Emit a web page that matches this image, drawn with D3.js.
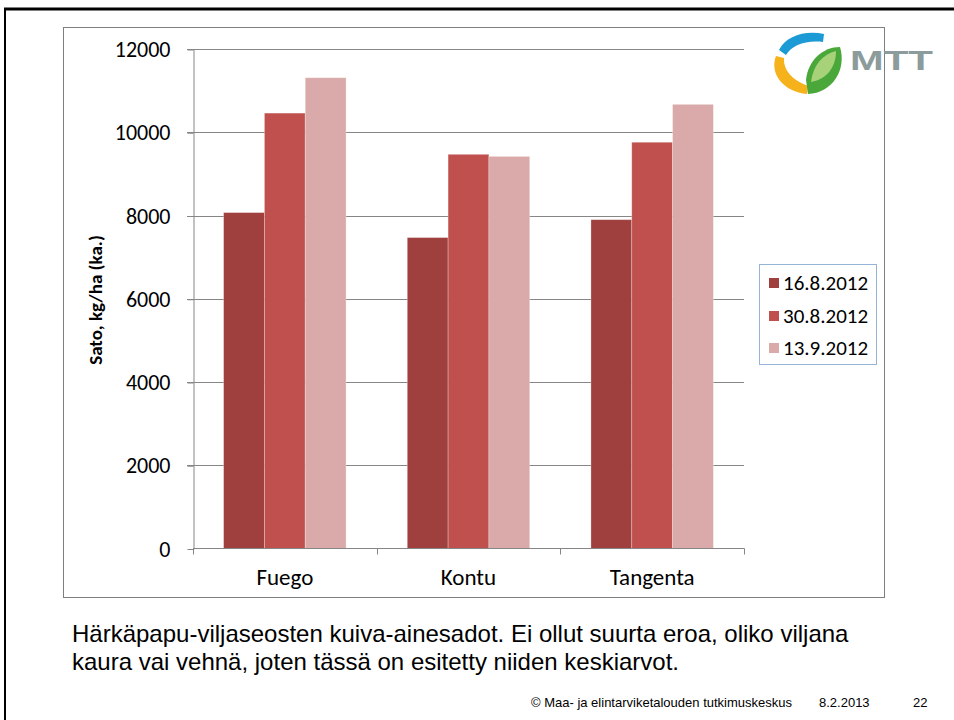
<!DOCTYPE html>
<html>
<head>
<meta charset="utf-8">
<script src="https://cdn.jsdelivr.net/npm/d3@7"></script>
<style>
  body { margin: 0; background: #fff; }
  svg { display: block; }
  .tick text { font-family: Calibri, Carlito, Lato, sans-serif; }
</style>
</head>
<body>
<div id="chart"></div>
<script>
const width = 954
const height = 720

// Data
const categories = ["Fuego", "Kontu", "Tangenta"]
const seriesNames = ["16.8.2012", "30.8.2012", "13.9.2012"]
const harvest1 = [8070, 7470, 7900]
const harvest2 = [10460, 9470, 9760]
const harvest3 = [11310, 9420, 10670]
const yTicks = [0, 2000, 4000, 6000, 8000, 10000, 12000]
const colors = ["#9f403e", "#c0504d", "#d9aaa9"]

const series = [harvest1, harvest2, harvest3]

// Plot area in page coordinates
const plot = {left: 193, right: 744, top: 49, bottom: 548.5}

const svg = d3.select("div#chart").append("svg").attr("width", width).attr("height", height)

// Slide frame
svg.append("line").attr("x1", 4).attr("x2", width).attr("y1", 9).attr("y2", 9)
    .attr("stroke", "#000").attr("stroke-width", 3)
svg.append("line").attr("x1", 5).attr("x2", 5).attr("y1", 8).attr("y2", height)
    .attr("stroke", "#000").attr("stroke-width", 2)

// Chart box
svg.append("rect").attr("x", 63.5).attr("y", 27.5).attr("width", 821).attr("height", 570)
    .attr("fill", "none").attr("stroke", "#7f7f7f").attr("stroke-width", 1)

// Scales
const y = d3.scaleLinear().domain([0, 12000]).range([plot.bottom, plot.top])
const x0 = d3.scaleBand().domain(categories).range([plot.left, plot.right])
    .paddingInner(1 / 3).paddingOuter(1 / 6)
const x1 = d3.scaleBand().domain(seriesNames).range([0, x0.bandwidth()])

// Gridlines
svg.append("g").attr("id", "grid").selectAll("line")
    .data(yTicks.filter(d => d > 0))
    .enter().append("line")
    .attr("x1", plot.left - 6).attr("x2", plot.right)
    .attr("y1", d => Math.round(y(d)) + 0.5).attr("y2", d => Math.round(y(d)) + 0.5)
    .attr("stroke", "#868686")

// Y axis
const yAxis = d3.axisLeft(y).tickValues(yTicks).tickFormat(d3.format("d")).tickSizeInner(6).tickSizeOuter(0).tickPadding(17)
const yAxisGroup = svg.append("g").attr("transform", `translate(${plot.left + 0.5}, 0.5)`).call(yAxis)
yAxisGroup.select(".domain").attr("stroke", "#868686")
yAxisGroup.selectAll(".tick line").attr("stroke", "#868686")
yAxisGroup.selectAll(".tick text").attr("font-size", 22).attr("fill", "#000")

// Bars
const groups = svg.append("g").attr("id", "bars").selectAll("g")
    .data(seriesNames)
    .enter().append("g")
    .attr("fill", (d, i) => colors[i])

groups.selectAll("rect")
    .data((d, i) => categories.map((c, j) => ({cat: c, name: d, value: series[i][j]})))
    .enter().append("rect")
    .attr("x", d => x0(d.cat) + x1(d.name))
    .attr("y", d => y(d.value))
    .attr("width", x1.bandwidth())
    .attr("height", d => plot.bottom - y(d.value))
    .attr("stroke", "#fff").attr("stroke-opacity", 0.35).attr("stroke-width", 0.8)

// X axis
const xAxisGroup = svg.append("g").attr("transform", `translate(0, ${plot.bottom})`)
xAxisGroup.append("line").attr("x1", plot.left).attr("x2", plot.right + 0.5).attr("stroke", "#868686")
const boundaries = categories.map(c => x0(c) - x0.step() * x0.paddingOuter()).concat([plot.right])
xAxisGroup.selectAll("line.tick").data(boundaries).enter().append("line")
    .attr("class", "tick")
    .attr("x1", d => Math.round(d) + 0.5).attr("x2", d => Math.round(d) + 0.5)
    .attr("y1", 0).attr("y2", 6).attr("stroke", "#868686")
xAxisGroup.selectAll("text").data(categories).enter().append("text")
    .attr("x", d => x0(d) + x0.bandwidth() / 2)
    .attr("y", 36)
    .attr("text-anchor", "middle")
    .attr("font-family", "Calibri, Carlito, Lato, sans-serif")
    .attr("font-size", 23)
    .text(d => d)

// Y axis title
svg.append("text")
    .attr("transform", "translate(102, 300) rotate(-90)")
    .attr("text-anchor", "middle")
    .attr("font-family", "Calibri, Carlito, Lato, sans-serif")
    .attr("font-weight", "bold")
    .attr("font-size", 19)
    .text("Sato, kg/ha (ka.)")

// Legend
const legend = svg.append("g").attr("id", "legend")
legend.append("rect").attr("x", 759.5).attr("y", 264.5).attr("width", 117).attr("height", 100)
    .attr("fill", "#fff").attr("stroke", "#95b3d7")
const legendY = [283, 316, 348]
const legendItems = legend.selectAll("g.item").data(seriesNames).enter().append("g")
    .attr("class", "item")
    .attr("transform", (d, i) => `translate(769, ${legendY[i]})`)
legendItems.append("rect").attr("x", 0).attr("y", -5).attr("width", 10).attr("height", 10)
    .attr("fill", (d, i) => colors[i])
legendItems.append("text").attr("x", 14).attr("y", 0).attr("dy", "0.35em")
    .attr("font-family", "Calibri, Carlito, Lato, sans-serif")
    .attr("font-size", 21)
    .text(d => d)

// MTT logo
const logo = svg.append("g").attr("id", "logo")
logo.append("path").attr("d", "M779,50 C786,36 805,30 824,34 L823,42 C806,40 792,45 786,55 Z").attr("fill", "#1c9ad6")
logo.append("path").attr("d", "M776,56 C769,74 784,92 807,94 L808,86 C792,80 783,70 784,58 Z").attr("fill", "#f6b21b")
logo.append("path").attr("d", "M808,94 C832,93 847,70 840,47 C823,47 808,60 806,80 Z").attr("fill", "#4aa83a")
logo.append("path").attr("d", "M811,82 C813,65 823,54 836,51 C836,66 828,79 811,82 Z").attr("fill", "#a8d27a")
logo.append("text").attr("x", 850).attr("y", 70)
    .attr("font-family", "'Liberation Sans Narrow', 'Liberation Sans', sans-serif")
    .attr("font-weight", "bold").attr("font-size", 28).attr("fill", "#8c9c9c")
    .attr("textLength", 83).attr("lengthAdjust", "spacingAndGlyphs")
    .text("MTT")

// Caption
const caption = svg.append("g").attr("font-family", "'Liberation Sans', Arial, sans-serif").attr("font-size", 24)
caption.append("text").attr("x", 72).attr("y", 642).text("Härkäpapu-viljaseosten kuiva-ainesadot. Ei ollut suurta eroa, oliko viljana")
caption.append("text").attr("x", 72).attr("y", 670).text("kaura vai vehnä, joten tässä on esitetty niiden keskiarvot.")

// Footer
const footer = svg.append("g").attr("font-family", "'Liberation Sans', Arial, sans-serif").attr("font-size", 13)
footer.append("text").attr("x", 792).attr("y", 707).attr("text-anchor", "end").text("© Maa- ja elintarviketalouden tutkimuskeskus")
footer.append("text").attr("x", 819).attr("y", 707).text("8.2.2013")
footer.append("text").attr("x", 913).attr("y", 707).text("22")
</script>
</body>
</html>
